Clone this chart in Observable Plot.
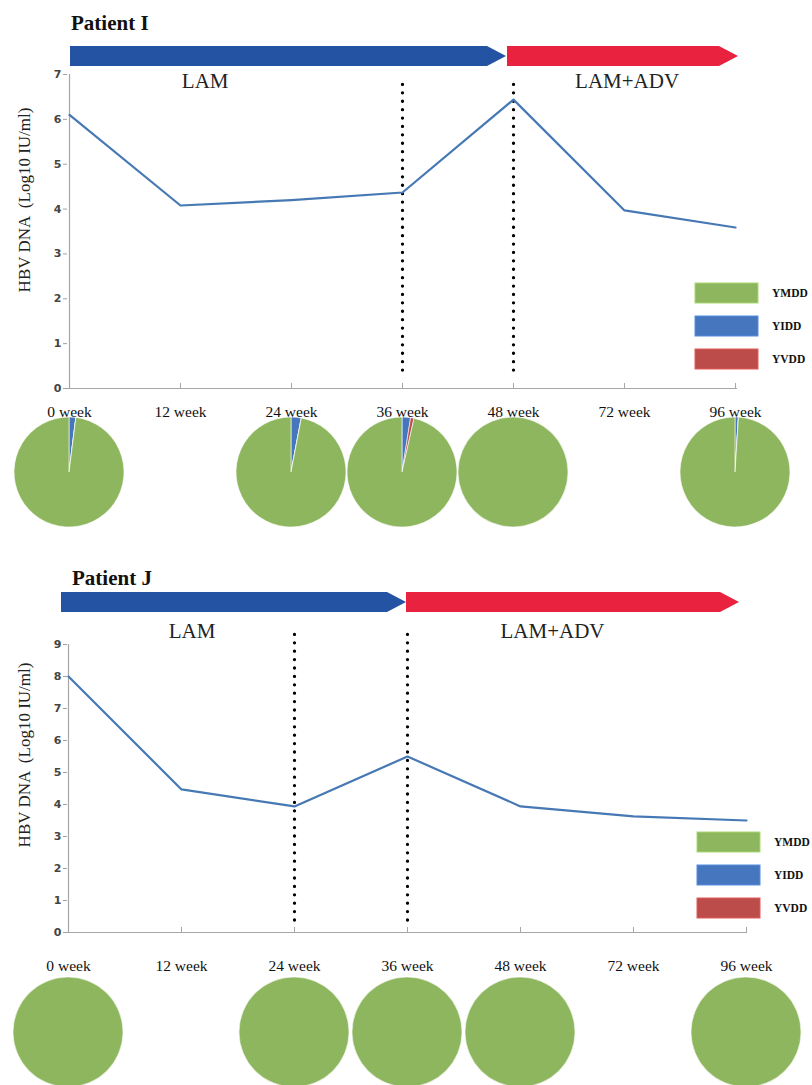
<!DOCTYPE html>
<html><head><meta charset="utf-8">
<script src="https://cdn.jsdelivr.net/npm/d3@7"></script>
<script src="https://cdn.jsdelivr.net/npm/@observablehq/plot@0.6"></script>
<style>
html,body{margin:0;padding:0;background:#fff;}
#chart svg{display:block;}
</style>
</head><body><div id="chart"></div>
<script>
// ---------- data ----------
const weeks = ["0 week","12 week","24 week","36 week","48 week","72 week","96 week"];
const hbvI = [6.1, 4.08, 4.2, 4.37, 6.44, 3.97, 3.59];
const hbvJ = [8.0, 4.47, 3.94, 5.5, 3.94, 3.63, 3.5];
const yTicksI = [0,1,2,3,4,5,6,7];
const yTicksJ = [0,1,2,3,4,5,6,7,8,9];

const genotypes = ["YMDD","YIDD","YVDD"];
const genoColors = ["#8db65e","#4677be","#bc4c4a"];

const pieWeeksI = ["0 week","24 week","36 week","48 week","96 week"];
const ymddI = [98, 97, 96.5, 100, 99];
const yiddI = [2, 3, 2.5, 0, 1];
const yvddI = [0, 0, 1, 0, 0];

const pieWeeksJ = ["0 week","24 week","36 week","48 week","96 week"];
const ymddJ = [100, 100, 100, 100, 100];
const yiddJ = [0, 0, 0, 0, 0];
const yvddJ = [0, 0, 0, 0, 0];

const therapies = ["LAM","LAM+ADV"];
const therapyColors = ["#2553a3","#e8223f"];
const therapyStartI = ["0 week","48 week"];
const therapyEndI = ["48 week","96 week"];
const therapyStartJ = ["0 week","36 week"];
const therapyEndJ = ["36 week","96 week"];

const markerWeeksI = ["36 week","48 week"];
const markerWeeksJ = ["24 week","36 week"];

// ---------- drawing ----------
const SERIF = "'Liberation Serif','DejaVu Serif',serif";
const SANS = "'DejaVu Sans',Lato,sans-serif";

function panel(cfg) {
  const W = 812;
  return Plot.plot({
    width: W, height: cfg.height,
    marginLeft: cfg.xRange[0], marginRight: W - cfg.xRange[1],
    marginTop: cfg.yRange[1], marginBottom: cfg.height - cfg.yRange[0],
    style: {background: "#fff", overflow: "visible"},
    x: {type: "point", domain: weeks, range: cfg.xRange, padding: 0},
    y: {domain: [0, cfg.yTicks[cfg.yTicks.length - 1]], range: cfg.yRange},
    marks: [
      // axes
      Plot.axisY({ticks: cfg.yTicks, tickFormat: d => String(d), tickSize: 4, tickPadding: 2, fontSize: 11,
                  fontWeight: "bold", fontFamily: SANS, stroke: "#a0a0a0", fill: "#444", label: null}),
      Plot.ruleX([weeks[0]], {stroke: "#a6a6a6", strokeWidth: 1.2}),
      Plot.ruleY([0], {stroke: "#a6a6a6", strokeWidth: 1.2}),
      Plot.ruleX(weeks.slice(1), {y1: 0, y2: 0, insetTop: -5, stroke: "#a6a6a6"}),
      Plot.axisX({tickSize: 0, tickPadding: cfg.weekPad, fontSize: 15.5, fontFamily: SERIF,
                  fill: "#111", label: null}),
      // dotted markers
      Plot.ruleX(cfg.markers, {y1: cfg.markerY[0], y2: cfg.markerY[1], stroke: "#000", strokeWidth: 3.3,
                 strokeLinecap: "round", strokeDasharray: "0 8.4"}),
      // viral load line
      Plot.line(weeks, {x: d => d, y: (d, i) => cfg.values[i], stroke: "#4679b4", strokeWidth: 2.2}),
      // therapy arrows + labels + title + y label + legend + pies
      (index, scales, values, dims) => {
        const g = d3.create("svg:g");
        const x = scales.x;
        // title
        g.append("text").attr("x", cfg.titleX).attr("y", cfg.titleY).attr("text-anchor", "start")
          .attr("font-family", SERIF).attr("font-weight", "bold").attr("font-size", 21).attr("fill", "#111")
          .text(cfg.title);
        // arrows
        therapies.forEach((t, k) => {
          const x0 = x(cfg.tStart[k]) + cfg.arrowAdj[k][0], x1 = x(cfg.tEnd[k]) + cfg.arrowAdj[k][1];
          const top = cfg.arrowTop, h = 20, head = 19;
          g.append("path")
            .attr("d", `M${x0},${top}H${x1 - head}L${x1},${top + h / 2}L${x1 - head},${top + h}H${x0}Z`)
            .attr("fill", therapyColors[k]);
          const lx = x0 + cfg.labelFrac[k] * (x1 - x0);
          g.append("text").attr("x", lx).attr("y", cfg.labelY).attr("text-anchor", "middle")
            .attr("font-family", SERIF).attr("font-size", 21).attr("fill", "#222").text(t);
        });
        // y axis label
        const yMid = (dims.marginTop + dims.height - dims.marginBottom) / 2 + cfg.yLabelShift;
        g.append("text").attr("transform", `translate(${cfg.yLabelX},${yMid}) rotate(-90)`)
          .attr("text-anchor", "middle").attr("font-family", SERIF).attr("font-size", 17).attr("fill", "#222")
          .text("HBV DNA  (Log10 IU/ml)");
        // legend
        genotypes.forEach((gname, k) => {
          const ty = cfg.legendTop + k * 33;
          g.append("rect").attr("x", cfg.legendX).attr("y", ty).attr("width", 63).attr("height", 20)
            .attr("fill", genoColors[k]).attr("stroke", d3.color(genoColors[k]).brighter(0.5)).attr("stroke-width", 1);
          g.append("text").attr("x", cfg.legendX + 77).attr("y", ty + 14).attr("text-anchor", "start")
            .attr("font-family", SERIF).attr("font-weight", "bold").attr("font-size", 11.5).attr("fill", "#111")
            .text(gname);
        });
        // pies
        const arc = d3.arc().innerRadius(0).outerRadius(55);
        const pie = d3.pie().sort(null).value(d => d.v);
        cfg.pieWeeks.forEach((w, k) => {
          const parts = [
            {c: genoColors[1], v: cfg.yidd[k]},
            {c: genoColors[2], v: cfg.yvdd[k]},
            {c: genoColors[0], v: cfg.ymdd[k]}
          ];
          g.append("g").attr("transform", `translate(${x(w)},${cfg.pieY})`)
            .selectAll("path").data(pie(parts)).join("path")
            .attr("d", arc).attr("fill", d => d.data.c)
            .attr("stroke", "#fff").attr("stroke-width", 0.6);
        });
        return g.node();
      }
    ]
  });
}

const root = document.getElementById("chart");
root.append(panel({
  title: "Patient I", titleX: 71, titleY: 30,
  height: 545, xRange: [67, 737], yRange: [388, 74], yTicks: yTicksI,
  values: hbvI, markers: markerWeeksI, markerY: [0.4, 6.8],
  tStart: therapyStartI, tEnd: therapyEndI, arrowAdj: [[1, -7], [-6, 3]], arrowTop: 46,
  labelFrac: [0.31, 0.52], labelY: 88,
  yLabelX: 30, yLabelShift: -31,
  legendX: 695, legendTop: 283,
  pieWeeks: pieWeeksI, ymdd: ymddI, yidd: yiddI, yvdd: yvddI, pieY: 472,
  weekPad: 17
}));
root.append(panel({
  title: "Patient J", titleX: 72, titleY: 40,
  height: 540, xRange: [67, 747], yRange: [387, 99], yTicks: yTicksJ,
  values: hbvJ, markers: markerWeeksJ, markerY: [0.375, 9.375],
  tStart: therapyStartJ, tEnd: therapyEndJ, arrowAdj: [[-7, -1], [-1, -7]], arrowTop: 47,
  labelFrac: [0.38, 0.44], labelY: 93,
  yLabelX: 30, yLabelShift: -33,
  legendX: 697, legendTop: 287,
  pieWeeks: pieWeeksJ, ymdd: ymddJ, yidd: yiddJ, yvdd: yvddJ, pieY: 487,
  weekPad: 27
}));
</script>
</body></html>
